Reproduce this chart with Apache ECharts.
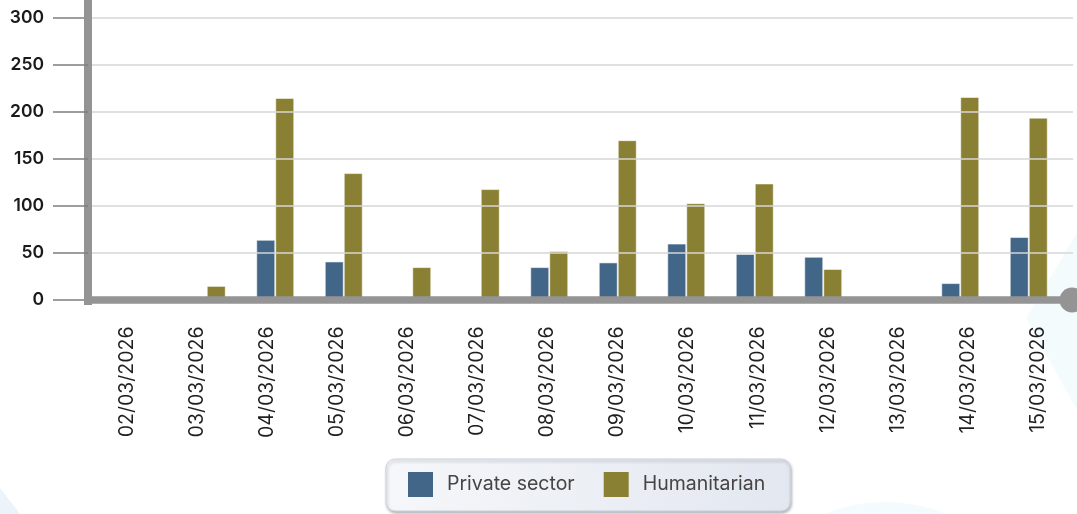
<!DOCTYPE html>
<html><head><meta charset="utf-8">
<script src="https://cdn.jsdelivr.net/npm/echarts@6/dist/echarts.min.js"></script>
<style>html,body{margin:0;padding:0;background:#fff}#c{width:1077px;height:514px}</style>
</head><body><div id="c"></div>
<script>
const categories = ['02/03/2026','03/03/2026','04/03/2026','05/03/2026','06/03/2026','07/03/2026','08/03/2026','09/03/2026','10/03/2026','11/03/2026','12/03/2026','13/03/2026','14/03/2026','15/03/2026'];
const privateSector = [0, 3, 64, 41, 0, 0, 35, 40, 60, 49, 46, 0, 18, 67];
const humanitarian = [0, 15, 215, 135, 35, 118, 52, 170, 103, 124, 33, 0, 216, 194];
const seriesNames = ['Private sector', 'Humanitarian'];
const yMin = 0, yMax = 300, yInterval = 50;

const chart = echarts.init(document.getElementById('c'), null, {renderer: 'canvas'});
const AXIS_GREY = '#949494';
const option = {
  backgroundColor: '#ffffff',
  animation: false,
  graphic: [
    {type: 'polygon', silent: true, z: -10, shape: {points: [[0, 488], [0, 514], [20, 514]]}, style: {fill: '#edf3fa'}},
    {type: 'polygon', silent: true, z: -10, shape: {points: [[1077, 233], [1026, 318], [1077, 410]]}, style: {fill: '#f3fbfd'}},
    {type: 'circle', silent: true, z: -10, shape: {cx: 885, cy: 664, r: 162}, style: {fill: '#f4fbfe'}}
  ],
  grid: [
    {left: 104, right: 14, top: 18, bottom: 214},
    {left: 92, right: 4, top: 18, bottom: 214}
  ],
  xAxis: [
    {type: 'category', gridIndex: 0, data: categories, show: false},
    {type: 'category', gridIndex: 1, data: categories, offset: 1.5, z: 5,
      axisLine: {show: true, lineStyle: {color: AXIS_GREY, width: 7.5}, symbol: ['none', 'circle'], symbolSize: [25, 25], symbolOffset: [0, -1]},
      axisTick: {show: false},
      axisLabel: {rotate: 90, margin: 25, fontSize: 19.5, color: '#1f1f1f', fontFamily: 'Inter', interval: 0},
      splitLine: {show: false}
    }
  ],
  yAxis: [
    {type: 'value', gridIndex: 0, min: yMin, max: yMax, interval: yInterval, show: false},
    {type: 'value', gridIndex: 1, min: yMin, max: yMax, interval: yInterval, offset: 4, z: 5,
      axisLine: {show: true, lineStyle: {color: AXIS_GREY, width: 8}, symbol: ['rect', 'rect'], symbolSize: [8, 37], symbolOffset: [13.5, -0.5]},
      axisTick: {show: true, length: 35, lineStyle: {color: '#7d7d7d', width: 1.5}},
      axisLabel: {margin: 44, fontSize: 17.5, fontWeight: 600, color: '#1a1a1a', fontFamily: 'Inter'},
      splitLine: {show: true, lineStyle: {color: '#d6d6d6', width: 1.5}}
    }
  ],
  legend: {
    left: 386, top: 459, orient: 'horizontal',
    data: seriesNames,
    icon: 'rect', itemWidth: 25, itemHeight: 25, itemGap: 29,
    padding: [13, 25, 14, 22],
    itemStyle: {borderWidth: 0},
    backgroundColor: {type: 'linear', x: 0, y: 0, x2: 1, y2: 0, colorStops: [{offset: 0, color: '#f5f7fa'}, {offset: 1, color: '#e3e7ef'}]},
    borderColor: '#cfd3dc', borderWidth: 1, borderRadius: 9,
    shadowColor: 'rgba(40,50,70,0.35)', shadowBlur: 3, shadowOffsetX: 1, shadowOffsetY: 2,
    textStyle: {fontSize: 19.5, color: '#454545', fontFamily: 'Inter', padding: [0, 0, 0, 9]}
  },
  series: [
    {type: 'bar', name: seriesNames[0], xAxisIndex: 0, yAxisIndex: 0, data: privateSector,
      barWidth: 19, barGap: '0%',
      itemStyle: {color: '#416688', borderColor: 'rgba(255,255,255,0.55)', borderWidth: 1}},
    {type: 'bar', name: seriesNames[1], xAxisIndex: 0, yAxisIndex: 0, data: humanitarian,
      barWidth: 19, barGap: '0%',
      itemStyle: {color: '#8a8033', borderColor: 'rgba(255,255,255,0.55)', borderWidth: 1}}
  ]
};
chart.setOption(option);
</script>
</body></html>
